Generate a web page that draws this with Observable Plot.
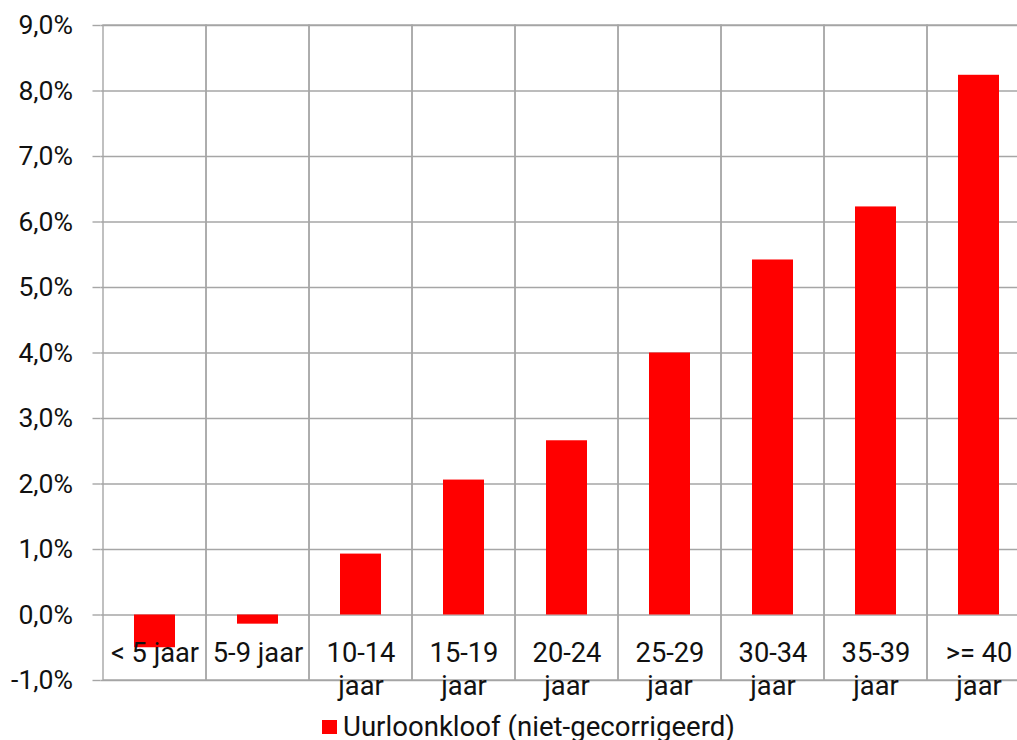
<!DOCTYPE html>
<html>
<head>
<meta charset="utf-8">
<script src="https://cdn.jsdelivr.net/npm/d3@7"></script>
<script src="https://cdn.jsdelivr.net/npm/@observablehq/plot@0.6"></script>
<style>
  html, body { margin: 0; padding: 0; background: #fff; overflow: hidden; }
  body { width: 1017px; height: 740px; position: relative; font-family: Roboto, sans-serif; }
  #chart svg { overflow: visible; max-width: none; }
  #legend { position: absolute; left: 322px; top: 713px; display: flex; align-items: center; gap: 6px;
            font-family: Roboto, sans-serif; font-size: 27.6px; line-height: 27px; color: #111; white-space: nowrap; }
  #legend .sw { width: 15px; height: 14px; background: #ff0000; }
</style>
</head>
<body>
<div id="chart"></div>
<div id="legend"><span class="sw"></span><span>Uurloonkloof (niet-gecorrigeerd)</span></div>
<script>
const categories = ["< 5 jaar", "5-9 jaar", "10-14\njaar", "15-19\njaar", "20-24\njaar", "25-29\njaar", "30-34\njaar", "35-39\njaar", ">= 40\njaar"];
const values = [-0.50, -0.14, 0.93, 2.06, 2.66, 4.00, 5.42, 6.23, 8.24];
const yTicks = [-1, 0, 1, 2, 3, 4, 5, 6, 7, 8, 9];
const yDomain = [-1, 9];
const seriesName = "Uurloonkloof (niet-gecorrigeerd)";

const data = categories.map((c, i) => ({cat: c, value: values[i]}));
const fmt = d => d.toFixed(1).replace(".", ",") + "%";
const gridColor = "#a6a6a6";

const chart = Plot.plot({
  width: 1040,
  height: 700,
  marginLeft: 100.5,
  marginRight: 8.5,
  marginTop: 25,
  marginBottom: 20,
  style: {fontFamily: "Roboto, sans-serif", fontSize: "26.7px", color: "#111", background: "#fff"},
  x: {domain: categories, padding: 0, axis: null},
  y: {domain: yDomain, ticks: yTicks, tickFormat: fmt, tickSize: 8, tickPadding: 20, label: null},
  marks: [
    Plot.ruleY(yTicks, {stroke: gridColor, strokeWidth: 1.4}),
    Plot.barY(categories, {x: d => d, y1: yDomain[0], y2: yDomain[1], fill: "none", stroke: gridColor, strokeWidth: 1.4}),
    Plot.barY(data, {x: "cat", y: "value", fill: "#ff0000", insetLeft: 31, insetRight: 31}),
    Plot.axisY({ticks: yTicks, tickFormat: fmt, tickSize: 8, tickPadding: 20, stroke: gridColor, strokeWidth: 1.4, strokeOpacity: 1, fontSize: 26.6, fill: "#111"}),
    Plot.text(categories, {x: d => d, y: 0, text: d => d, dy: 24, lineAnchor: "top", lineHeight: 1.19, fontSize: 27.3, fill: "#111"})
  ]
});
document.getElementById("chart").appendChild(chart);
</script>
</body>
</html>
